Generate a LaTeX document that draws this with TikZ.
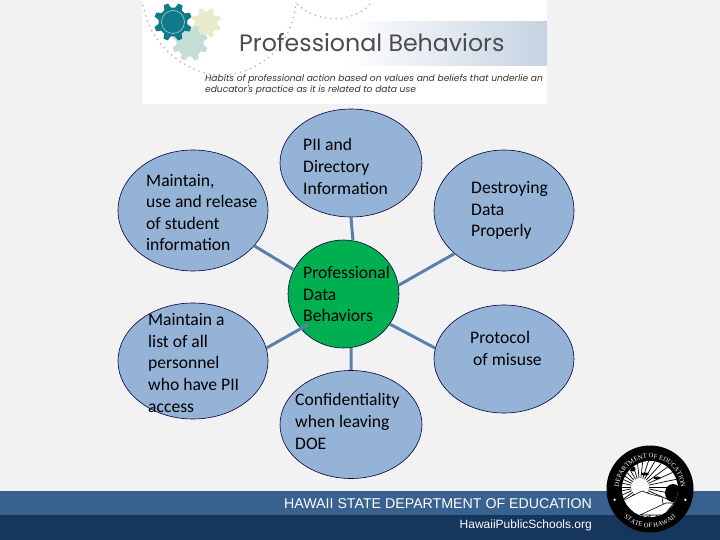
\documentclass[tikz,border=0pt]{standalone}
\usepackage{fontspec}
\usepackage{xcolor}
\setmainfont{Carlito}
\newfontfamily\headfont{Poppins}
\newfontfamily\bandfont{Liberation Sans}
\newfontfamily\sealserif{Liberation Serif}
\usetikzlibrary{shapes.geometric, decorations.text}
\definecolor{pagegray}{RGB}{242, 242, 242}
\definecolor{itemblue}{RGB}{149, 179, 215}
\definecolor{linkblue}{RGB}{88, 130, 172}
\definecolor{hubgreen}{RGB}{0, 176, 80}
\definecolor{bandblue}{RGB}{56, 97, 143}
\definecolor{banddark}{RGB}{23, 54, 93}
\definecolor{gearteal}{RGB}{16, 122, 136}
\definecolor{gearyellow}{RGB}{232, 234, 204}
\definecolor{gearpale}{RGB}{196, 222, 214}
\definecolor{dottan}{RGB}{185, 178, 172}
\definecolor{stripblue}{RGB}{197, 211, 226}
\newcommand{\drawgear}[3]{
    \fill[#3] (#1) circle (#2*0.76);
    \foreach \a in {0,45,...,315}
        \fill[#3, shift={(#1)}, rotate=\a+22] (-#2*0.2,#2*0.7) -- (-#2*0.12,#2) -- (#2*0.12,#2) -- (#2*0.2,#2*0.7) -- cycle;
}
\newcommand{\sealfont}{\sealserif\fontsize{6.6}{6.6}\selectfont\color{white}}
\begin{document}
\begin{tikzpicture}[x=1pt, y=-1pt,
    item/.style={ellipse, draw=black!75!blue, line width=0.6pt, fill=itemblue, inner sep=0pt},
    hub/.style={ellipse, draw=black!75!blue, line width=0.6pt, fill=hubgreen, inner sep=0pt,
                minimum width=111pt, minimum height=108pt},
    itemtext/.style={anchor=west, align=left, inner sep=0pt, text=black,
                     font=\fontsize{17.6}{21.6}\selectfont},
    link/.style={draw=linkblue, line width=3pt},
    dotarc/.style={draw=dottan, line width=1.3pt, dash pattern=on 1.3pt off 4pt}
]
    \useasboundingbox (0,0) rectangle (720,540);
    \fill[pagegray] (0,0) rectangle (720,540);

    \fill[white] (142,0) rectangle (547,104);
    \fill[left color=white, right color=stripblue, draw=none] (343,22) rectangle (547,66);
    \draw[dotarc] (143,5) .. controls (150,50) and (195,78) .. (225,75)
        .. controls (262,72) and (292,45) .. (296,2);
    \draw[dotarc] (297,4) .. controls (315,22) and (352,26) .. (372,2);
    \drawgear{206,23}{15}{gearyellow}
    \drawgear{190,43}{18}{gearpale}
    \drawgear{173,22}{19}{gearteal}
    \draw[gearpale, line width=0.5pt] (173,22) circle (11.5);
    \node[anchor=west, inner sep=0pt, text=black!70, font=\headfont\fontsize{23.7}{25}\selectfont] (title) at (239,43) {Professional Behaviors};
    \node[anchor=north west, align=left, inner sep=0pt, text=black!80,
          font=\headfont\itshape\fontsize{9.1}{11}\selectfont] (subtitle) at (205,74.5)
        {Habits of professional action based on values and beliefs that underlie an\\
         educator's practice as it is related to data use};

    \fill[bandblue] (0,491) rectangle (720,515);
    \fill[banddark] (0,515) rectangle (720,540);

    \node[item, minimum width=150pt, minimum height=121pt] (release) at (193,210.5) {};
    \node[item, minimum width=150pt, minimum height=116pt] (personnel) at (193,361) {};
    \node[item, minimum width=142pt, minimum height=108pt] (directory) at (351,163) {};
    \node[item, minimum width=142pt, minimum height=108pt] (leaving) at (351,424.5) {};
    \node[item, minimum width=140pt, minimum height=121pt] (destroying) at (504,210.5) {};
    \node[item, minimum width=140pt, minimum height=108pt] (misuse) at (504,359) {};
    \node[hub] (behaviors) at (343.5,294) {};

    \draw[link] (directory.south) -- (behaviors.80);
    \draw[link] (leaving.north) -- (behaviors.278);
    \draw[link] (release.330) -- (behaviors.154);
    \draw[link, shorten >=-9pt] (personnel.10) -- (behaviors.219);
    \draw[link] (destroying.221) -- (behaviors.9);
    \draw[link] (misuse.171) -- (behaviors.327);

    \node[itemtext] (releasetext) at (146,212.5) {Maintain,\\use and release\\of student\\information};
    \node[itemtext] (personneltext) at (148,363) {Maintain a\\list of all\\personnel\\who have PII\\access};
    \node[itemtext] (directorytext) at (303,166.5) {PII and\\Directory\\Information};
    \node[itemtext] (behaviorstext) at (303,294) {Professional\\Data\\Behaviors};
    \node[itemtext] (leavingtext) at (295,421.5) {Confidentiality\\when leaving\\DOE};
    \node[itemtext] (destroyingtext) at (471,210.5) {Destroying\\Data\\Properly};
    \node[itemtext] (misusetext) at (470,348.5) {Protocol\\\hspace*{3pt}of misuse};

    \node[anchor=east, inner sep=0pt, text=white, font=\bandfont\fontsize{14.2}{16}\selectfont] (department) at (592,504) {HAWAII STATE DEPARTMENT OF EDUCATION};
    \node[anchor=east, inner sep=0pt, text=white, font=\bandfont\fontsize{12}{14}\selectfont] (website) at (592,525) {HawaiiPublicSchools.org};

    \begin{scope}[shift={(650,489)}, y=1pt]
        \fill[black] (0,0) circle (43.5);
        \fill[white] (0,0) circle (28);
        \begin{scope}
            \clip (0,0) circle (28);
            \foreach \a in {0,12,...,348}
                \draw[black, line width=0.7pt] (-10,2) -- ++(\a:40);
            \fill[white] (-10,2) circle (9);
            \fill[black] (-17,20) circle (2.5);
            \fill[black] (-5,15) ellipse (4 and 1.5);
            \fill[black] (7,11) ellipse (3.5 and 1.5);
            \fill[black] (23,-4) ellipse (8 and 9);
            \fill[white, draw=black, line width=0.6pt] (-28,-12) -- (-8,-2) -- (0,-5) -- (12,-8) -- (14,-22) -- (-10,-30) -- cycle;
            \fill[white, draw=black, line width=0.6pt] (-10,-26) -- (16,-14) -- (24,-14) -- (14,-26) -- cycle;
        \end{scope}
        \path[decorate, decoration={text along path, text align=center,
            text={|\sealfont|DEPARTMENT OF EDUCATION}}] (192:31) arc (192:-12:31);
        \path[decorate, decoration={text along path, text align=center,
            text={|\sealfont|STATE OF HAWAII}}] (208:38.5) arc (208:332:38.5);
        \fill[white] (197:37) circle (1.3);
        \fill[white] (343:37) circle (1.3);
    \end{scope}
\end{tikzpicture}
\end{document}
